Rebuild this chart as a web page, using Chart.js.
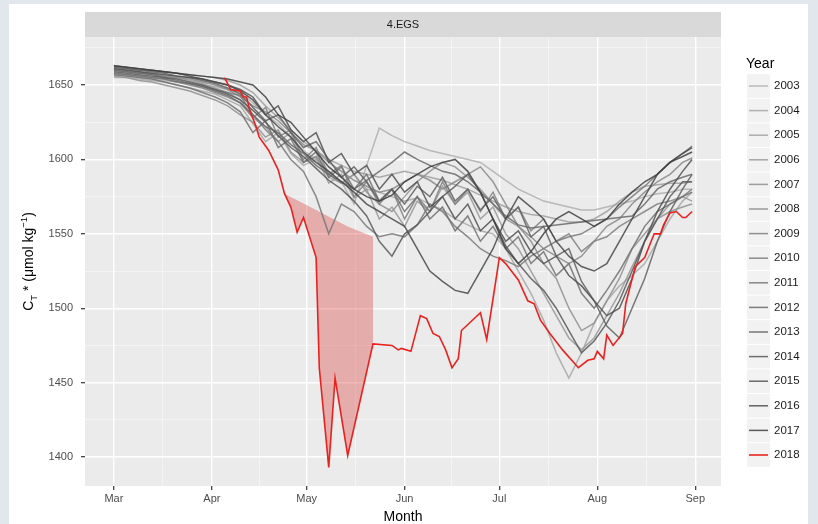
<!DOCTYPE html>
<html>
<head>
<meta charset="utf-8">
<script src="https://cdn.jsdelivr.net/npm/chart.js@4/dist/chart.umd.min.js"></script>
<style>
  html, body { margin: 0; padding: 0; background: #e2e7ee; }
  #wrap { position: absolute; left: 0; top: 0; width: 818px; height: 524px; }
</style>
</head>
<body>
<div id="wrap"><canvas id="chart" width="818" height="524"></canvas></div>
<script>
// x is day of year (Mar 1 = 60)
const monthTicks = [60, 91, 121, 152, 182, 213, 244];
const monthLabels = ['Mar', 'Apr', 'May', 'Jun', 'Jul', 'Aug', 'Sep'];
const yTicks = [1400, 1450, 1500, 1550, 1600, 1650];

const years = ['2003','2004','2005','2006','2007','2008','2009','2010','2011','2012','2013','2014','2015','2016','2017'];
const days = [60,64,68,72,76,80,84,88,92,96,100,104,108,112,116,120,124,128,132,136,140,144,148,152,156,160,164,168,172,176,180,184,188,192,196,200,204,208,212,216,220,224,228,232,236,240,243];

const ct2003 = [1657,1656,1655,1654,1653,1652,1651,1650,1649,1647,1645,1638,1630,1624,1615,1606,1600,1592,1585,1570,1596,1621,1616,1612,1609,1606,1604,1602,1600,1598,1592,1586,1580,1576,1572,1570,1568,1566,1566,1568,1570,1572,1575,1577,1578,1580,1580];
const ct2004 = [1655,1655,1654,1653,1652,1650,1648,1646,1644,1640,1636,1624,1612,1618,1604,1596,1600,1588,1584,1590,1580,1578,1575,1572,1574,1570,1566,1560,1556,1552,1550,1540,1525,1510,1492,1470,1453,1470,1490,1505,1515,1522,1530,1545,1560,1572,1578];
const ct2005 = [1662,1661,1660,1660,1659,1658,1657,1656,1655,1653,1650,1645,1636,1628,1620,1612,1606,1600,1596,1592,1590,1588,1590,1592,1590,1588,1586,1583,1580,1576,1572,1568,1565,1563,1562,1560,1558,1558,1560,1565,1572,1578,1582,1583,1584,1584,1585];
const ct2006 = [1660,1659,1658,1658,1656,1655,1653,1651,1648,1645,1640,1628,1622,1612,1618,1598,1602,1584,1590,1574,1580,1560,1568,1555,1572,1565,1582,1570,1578,1560,1568,1550,1540,1525,1510,1495,1480,1472,1480,1495,1510,1528,1545,1560,1570,1575,1572];
const ct2007 = [1656,1655,1653,1652,1650,1648,1646,1643,1640,1636,1630,1625,1615,1620,1605,1598,1602,1590,1584,1590,1578,1570,1565,1575,1585,1592,1598,1595,1588,1580,1570,1560,1555,1545,1530,1520,1500,1485,1490,1505,1520,1540,1550,1560,1565,1568,1570];
const ct2008 = [1661,1660,1659,1657,1656,1655,1654,1652,1650,1647,1642,1636,1632,1626,1618,1610,1606,1598,1592,1586,1582,1578,1580,1585,1590,1586,1580,1585,1590,1595,1585,1570,1555,1548,1540,1535,1530,1535,1545,1555,1560,1570,1578,1585,1590,1598,1601];
const ct2009 = [1658,1657,1656,1655,1654,1652,1650,1648,1645,1642,1638,1628,1635,1615,1620,1600,1608,1590,1596,1575,1585,1570,1580,1560,1575,1565,1585,1570,1580,1565,1578,1560,1568,1552,1560,1545,1550,1538,1545,1548,1555,1560,1565,1570,1572,1575,1580];
const ct2010 = [1658,1657,1656,1655,1654,1652,1651,1649,1647,1645,1643,1630,1620,1612,1600,1592,1575,1550,1570,1565,1555,1548,1550,1548,1556,1570,1565,1555,1548,1540,1535,1532,1528,1535,1540,1545,1548,1550,1555,1560,1568,1575,1582,1590,1598,1604,1609];
const ct2011 = [1657,1656,1655,1654,1652,1650,1648,1645,1642,1638,1632,1618,1626,1608,1614,1598,1605,1588,1595,1580,1590,1572,1580,1565,1575,1560,1568,1552,1562,1545,1555,1540,1548,1530,1538,1522,1530,1510,1500,1512,1525,1540,1555,1565,1570,1575,1578];
const ct2012 = [1660,1659,1658,1657,1655,1653,1651,1649,1646,1643,1638,1630,1622,1618,1610,1604,1596,1590,1585,1580,1586,1592,1598,1605,1600,1596,1592,1590,1585,1578,1570,1562,1556,1554,null,null,null,null,null,null,null,1562,1570,1580,1585,1588,1590];
const ct2013 = [1662,1661,1660,1659,1658,1656,1655,1653,1651,1648,1644,1635,1626,1630,1618,1608,1612,1600,1588,1595,1585,1572,1580,1570,1582,1575,1588,1572,1580,1566,1575,1560,1568,1548,1555,1535,1540,1518,1505,1488,1480,1500,1520,1545,1565,1580,1590];
const ct2014 = [1659,1658,1657,1656,1655,1654,1652,1650,1647,1644,1640,1633,1625,1616,1608,1602,1594,1586,1580,1572,1562,1545,1535,1550,1556,1565,1575,1582,1590,1578,1560,1542,1530,1520,1512,1500,1485,1470,1478,1490,1505,1525,1545,1560,1575,1585,1585];
const ct2015 = [1661,1660,1659,1658,1657,1656,1655,1654,1652,1650,1647,1642,1630,1636,1620,1612,1618,1598,1604,1590,1596,1580,1590,1578,1585,1568,1575,1560,1570,1552,1560,1545,1552,1538,1530,1535,1522,1515,1505,1495,1500,1520,1545,1565,1580,1592,1600];
const ct2016 = [1663,1662,1661,1660,1659,1658,1656,1654,1652,1650,1646,1640,1630,1622,1615,1605,1598,1592,1585,1578,1570,1565,1560,1555,1540,1525,1518,1512,1510,1525,1540,1560,1575,1568,1560,1545,1535,1528,1525,1530,1545,1560,1575,1590,1598,1604,1608];
const ct2017 = [1663,1662,1661,1660,1659,1658,1657,1656,1655,1654,1652,1650,1642,1630,1625,1615,1605,1595,1588,1580,1575,1572,1576,1585,1590,1595,1598,1600,1592,1578,1560,1540,1530,1538,1550,1560,1565,1560,1555,1560,1570,1578,1585,1590,1598,1602,1605];
const grayValues = [ct2003, ct2004, ct2005, ct2006, ct2007, ct2008, ct2009, ct2010, ct2011, ct2012, ct2013, ct2014, ct2015, ct2016, ct2017];

const days2018 = [95,97,100,101,102,103,105,106,109,112,114,116,118,120,124,125,128,130,134,142,148,150,151,154,157,159,161,163,165,167,169,170,176,178,182,184,188,191,193,195,198,202,207,210,212,213,215,216,218,221,222,225,228,231,233,234,236,238,240,241,243];
const ct2018 = [1655,1647,1646,1642,1642,1633,1622,1615,1606,1593,1577,1568,1551,1561,1534,1460,1393,1453,1401,1476,1475,1472,1473,1471,1495,1493,1483,1481,1472,1460,1466,1485,1497,1479,1534,1530,1519,1505,1503,1492,1483,1472,1460,1465,1466,1471,1466,1482,1475,1483,1503,1528,1534,1550,1550,1556,1564,1565,1561,1561,1565];

// upper edge of the shaded deficit
const refDays = [114, 124, 134, 142];
const refValues = [1577, 1566, 1555, 1548];

const FONT = "'Liberation Sans', Arial, sans-serif";

function grayColor(i) {
  const v = Math.round(175 - i * 7.9);
  return `rgba(${v},${v},${v},0.85)`;
}

const grayDatasets = years.map((yr, i) => ({
  label: yr,
  data: days.map((d, j) => ({ x: d, y: grayValues[i][j] })),
  borderColor: grayColor(i),
  borderWidth: 1.5,
  pointRadius: 0,
  spanGaps: true,
  fill: false,
  order: 40 - i
}));

const redData = days2018.map((d, j) => ({ x: d, y: ct2018[j] }));

const shade = refDays.map((d, j) => ({ x: d, y: refValues[j] }))
  .concat(redData.filter(p => p.x >= refDays[0] && p.x <= refDays[refDays.length - 1]).reverse());

const xMinor = monthTicks.slice(1).map((m, i) => (m + monthTicks[i]) / 2);
const yMinor = [1425, 1475, 1525, 1575, 1625, 1675];

const gridOpts = (majors) => ({
  color: c => majors.includes(c.tick.value) ? '#ffffff' : 'rgba(255,255,255,0.6)',
  lineWidth: c => majors.includes(c.tick.value) ? 1.4 : 0.8,
  tickColor: c => majors.includes(c.tick.value) ? '#333333' : 'rgba(0,0,0,0)',
  tickLength: 4,
  tickWidth: 1.2,
  drawOnChartArea: true
});

const backdrop = {
  id: 'backdrop',
  beforeDraw(chart) {
    const { ctx, chartArea: a } = chart;
    ctx.save();
    ctx.fillStyle = '#e2e7ee';
    ctx.fillRect(0, 0, chart.width, chart.height);
    ctx.fillStyle = '#ffffff';
    ctx.fillRect(9, 4, 799, 530);
    ctx.fillStyle = '#ebebeb';
    ctx.fillRect(a.left, a.top, a.right - a.left, a.bottom - a.top);
    // facet strip
    ctx.fillStyle = '#d9d9d9';
    ctx.fillRect(a.left, 12, a.right - a.left, a.top - 12);
    ctx.fillStyle = '#1a1a1a';
    ctx.font = `11px ${FONT}`;
    ctx.textAlign = 'center';
    ctx.textBaseline = 'middle';
    ctx.fillText('4.EGS', (a.left + a.right) / 2, 25);
    ctx.restore();
  }
};

const decorations = {
  id: 'decorations',
  afterDraw(chart) {
    const { ctx, chartArea: a } = chart;
    ctx.save();
    // x title
    ctx.fillStyle = '#000';
    ctx.font = `14px ${FONT}`;
    ctx.textAlign = 'center';
    ctx.textBaseline = 'alphabetic';
    ctx.fillText('Month', (a.left + a.right) / 2, 521);

    // y title with subscript / superscript
    const parts = [
      { t: 'C', s: 14, dy: 0 },
      { t: 'T', s: 9.5, dy: 4 },
      { t: ' * (\u03bcmol kg', s: 14, dy: 0 },
      { t: '\u22121', s: 9.5, dy: -6 },
      { t: ')', s: 14, dy: 0 }
    ];
    let total = 0;
    parts.forEach(p => { ctx.font = `${p.s}px ${FONT}`; p.w = ctx.measureText(p.t).width; total += p.w; });
    ctx.translate(33, (a.top + a.bottom) / 2);
    ctx.rotate(-Math.PI / 2);
    ctx.textAlign = 'left';
    let x = -total / 2;
    parts.forEach(p => {
      ctx.font = `${p.s}px ${FONT}`;
      ctx.fillText(p.t, x, p.dy);
      x += p.w;
    });
    ctx.restore();

    // legend
    ctx.save();
    ctx.fillStyle = '#000';
    ctx.font = `14px ${FONT}`;
    ctx.textAlign = 'left';
    ctx.textBaseline = 'alphabetic';
    ctx.fillText('Year', 746, 68);
    const items = chart.data.datasets.filter(d => /^\d{4}$/.test(d.label));
    items.sort((p, q) => p.label.localeCompare(q.label));
    const rowH = 24.6, top0 = 73.7, kx = 747, kw = 23;
    items.forEach((d, i) => {
      const y0 = top0 + i * rowH;
      ctx.fillStyle = '#f2f2f2';
      ctx.fillRect(kx, y0 + 0.5, kw, rowH - 1);
      const cy = y0 + rowH / 2;
      ctx.strokeStyle = d.borderColor;
      ctx.lineWidth = d.borderWidth;
      ctx.beginPath();
      ctx.moveTo(kx + 2, cy);
      ctx.lineTo(kx + kw - 2, cy);
      ctx.stroke();
      ctx.fillStyle = '#1a1a1a';
      ctx.font = `11.5px ${FONT}`;
      ctx.textBaseline = 'middle';
      ctx.fillText(d.label, kx + kw + 4, cy);
    });
    ctx.restore();
  }
};

new Chart(document.getElementById('chart'), {
  type: 'line',
  data: {
    datasets: [
      {
        label: 'deficit',
        data: shade,
        borderColor: 'rgba(0,0,0,0)',
        borderWidth: 0,
        backgroundColor: 'rgba(220,60,60,0.36)',
        pointRadius: 0,
        fill: 'shape',
        order: 60
      },
      ...grayDatasets,
      {
        label: '2018',
        data: redData,
        borderColor: '#e8221f',
        borderWidth: 1.6,
        pointRadius: 0,
        fill: false,
        order: 1
      }
    ]
  },
  options: {
    responsive: false,
    animation: false,
    events: [],
    layout: { padding: { left: 0, top: 37, right: 97, bottom: 0 } },
    plugins: { legend: { display: false }, tooltip: { enabled: false } },
    elements: { line: { tension: 0 } },
    scales: {
      x: {
        type: 'linear',
        min: 50.85,
        max: 252.15,
        afterBuildTicks: s => {
          s.ticks = monthTicks.concat(xMinor).sort((p, q) => p - q).map(v => ({ value: v }));
        },
        afterFit: s => { s.height = 38; },
        ticks: {
          autoSkip: false,
          maxRotation: 0,
          padding: 2,
          color: '#4d4d4d',
          font: { family: FONT, size: 11 },
          callback: v => { const k = monthTicks.indexOf(v); return k >= 0 ? monthLabels[k] : ''; }
        },
        grid: gridOpts(monthTicks),
        border: { display: false }
      },
      y: {
        type: 'linear',
        min: 1380.5,
        max: 1682.3,
        afterBuildTicks: s => {
          s.ticks = yTicks.concat(yMinor).sort((p, q) => p - q).map(v => ({ value: v }));
        },
        afterFit: s => { s.width = 85; },
        ticks: {
          autoSkip: false,
          padding: 8,
          color: '#4d4d4d',
          font: { family: FONT, size: 11 },
          callback: v => yTicks.includes(v) ? String(v) : ''
        },
        grid: gridOpts(yTicks),
        border: { display: false }
      }
    }
  },
  plugins: [backdrop, decorations]
});
</script>
</body>
</html>
